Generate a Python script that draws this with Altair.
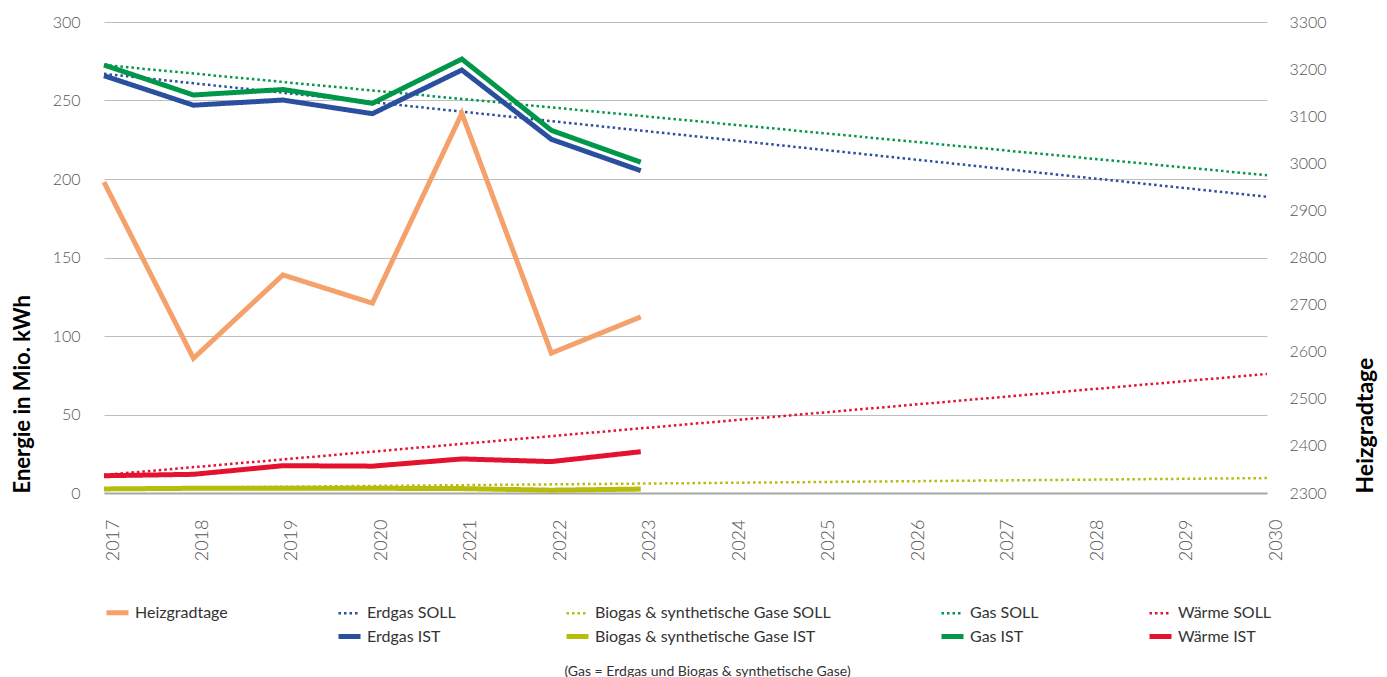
import altair as alt
import pandas as pd

# ---- data ----
ist_years = [2017, 2018, 2019, 2020, 2021, 2022, 2023]
soll_years = [2017, 2030]

heizgradtage = [2960, 2586, 2763, 2703, 3106, 2597, 2674]
erdgas_ist = [265.8, 247.0, 250.3, 241.6, 269.4, 225.3, 205.3]
biogas_ist = [2.6, 3.0, 3.0, 3.0, 2.8, 1.8, 2.5]
gas_ist = [272.6, 253.5, 257.0, 248.2, 276.4, 231.0, 210.7]
waerme_ist = [11.0, 11.9, 17.4, 17.1, 21.7, 20.0, 26.3]

erdgas_soll = [267.0, 188.7]
biogas_soll = [3.0, 9.5]
gas_soll = [272.6, 202.4]
waerme_soll = [11.5, 75.8]

legend_order = [
    "Heizgradtage", "Erdgas SOLL", "Biogas & synthetische Gase SOLL", "Gas SOLL", "Wärme SOLL",
    " ", "Erdgas IST", "Biogas & synthetische Gase IST", "Gas IST", "Wärme IST",
]
colors = ["#F4A16C", "#2A4F9E", "#B6BD0C", "#00974A", "#E4112F",
          "rgba(0,0,0,0)", "#2A4F9E", "#B6BD0C", "#00974A", "#E4112F"]
dashes = [[1, 0], [2.5, 3], [2.5, 3], [2.5, 3], [2.5, 3],
          [1, 0], [1, 0], [1, 0], [1, 0], [1, 0]]
widths = [5, 2.5, 2.5, 2.5, 2.5, 5, 5, 5, 5, 5]

rows = []
for name, yrs, vals in [
    ("Erdgas SOLL", soll_years, erdgas_soll),
    ("Biogas & synthetische Gase SOLL", soll_years, biogas_soll),
    ("Gas SOLL", soll_years, gas_soll),
    ("Wärme SOLL", soll_years, waerme_soll),
    ("Biogas & synthetische Gase IST", ist_years, biogas_ist),
    ("Wärme IST", ist_years, waerme_ist),
    ("Erdgas IST", ist_years, erdgas_ist),
    ("Gas IST", ist_years, gas_ist),
]:
    for yr, v in zip(yrs, vals):
        rows.append({"year": yr, "value": v, "series": name})
energy = pd.DataFrame(rows)
hgt = pd.DataFrame({"year": ist_years, "hgt": heizgradtage, "series": "Heizgradtage"})

FONT = "Lato"
x_enc = alt.X(
    "year:Q",
    scale=alt.Scale(domain=[2017, 2030], nice=False, zero=False),
    axis=alt.Axis(
        values=list(range(2017, 2031)), format="d", title=None,
        labelAngle=270, labelAlign="right", labelBaseline="top",
        labelPadding=26, labelFontSize=18, labelColor="#555555", labelFontWeight=300,
        ticks=False, grid=False, domainColor="#A8A8A8", domainWidth=2,
    ),
)
color_enc = alt.Color("series:N", scale=alt.Scale(domain=legend_order, range=colors),
                      legend=alt.Legend(title=None))
dash_enc = alt.StrokeDash("series:N", scale=alt.Scale(domain=legend_order, range=dashes),
                          legend=alt.Legend(title=None))
width_enc = alt.StrokeWidth("series:N",
                            scale=alt.Scale(type="ordinal", domain=legend_order, range=widths),
                            legend=alt.Legend(title=None))

left = alt.Chart(energy).mark_line(strokeCap="butt", strokeJoin="miter").encode(
    x=x_enc,
    y=alt.Y("value:Q", scale=alt.Scale(domain=[0, 300], nice=False),
            axis=alt.Axis(values=[0, 50, 100, 150, 200, 250, 300], title="Energie in Mio. kWh",
                          titleFontSize=22, titleFontWeight="bold", titleColor="#000000",
                          titleAngle=270, titleAnchor="start",
                          titlePadding=18, labelPadding=24, labelFontSize=16,
                          labelColor="#555555", labelFontWeight=300,
                          ticks=False, domain=False, gridColor="#BDBDBD", gridWidth=1.2)),
    color=color_enc, strokeDash=dash_enc, strokeWidth=width_enc,
    detail="series:N",
)

right = alt.Chart(hgt).mark_line(strokeCap="butt", strokeJoin="miter").encode(
    x=x_enc,
    y=alt.Y("hgt:Q", scale=alt.Scale(domain=[2300, 3300], nice=False, zero=False),
            axis=alt.Axis(orient="right", values=list(range(2300, 3301, 100)), format="d",
                          title="Heizgradtage",
                          titleFontSize=23, titleFontWeight="bold", titleColor="#000000",
                          titleAngle=270, titleAnchor="start",
                          titlePadding=51, labelPadding=22, labelFontSize=16,
                          labelColor="#555555", labelFontWeight=300,
                          ticks=False, domain=False, grid=False)),
    color=color_enc, strokeDash=dash_enc, strokeWidth=width_enc,
)

chart = alt.layer(left, right).resolve_scale(y="independent").properties(
    width=1163, height=471,
    padding={"top": 6, "left": 3, "right": 0, "bottom": 0},
    title=alt.TitleParams(
        text="(Gas = Erdgas und Biogas & synthetische Gase)", orient="bottom",
        anchor="middle", fontSize=14, fontWeight="normal", color="#333333",
        font=FONT, offset=18, dx=22,
    ),
).configure_view(stroke=None).configure_axis(
    labelFont=FONT, titleFont=FONT,
).configure_legend(
    orient="bottom", columns=5, columnPadding=100, rowPadding=0,
    symbolType="stroke", symbolSize=484, labelFontSize=16, labelFont=FONT,
    labelColor="#333333", labelLimit=0, offset=38, padding=0,
)

chart.save("out.html", embed_options={"renderer": "svg", "actions": False})
